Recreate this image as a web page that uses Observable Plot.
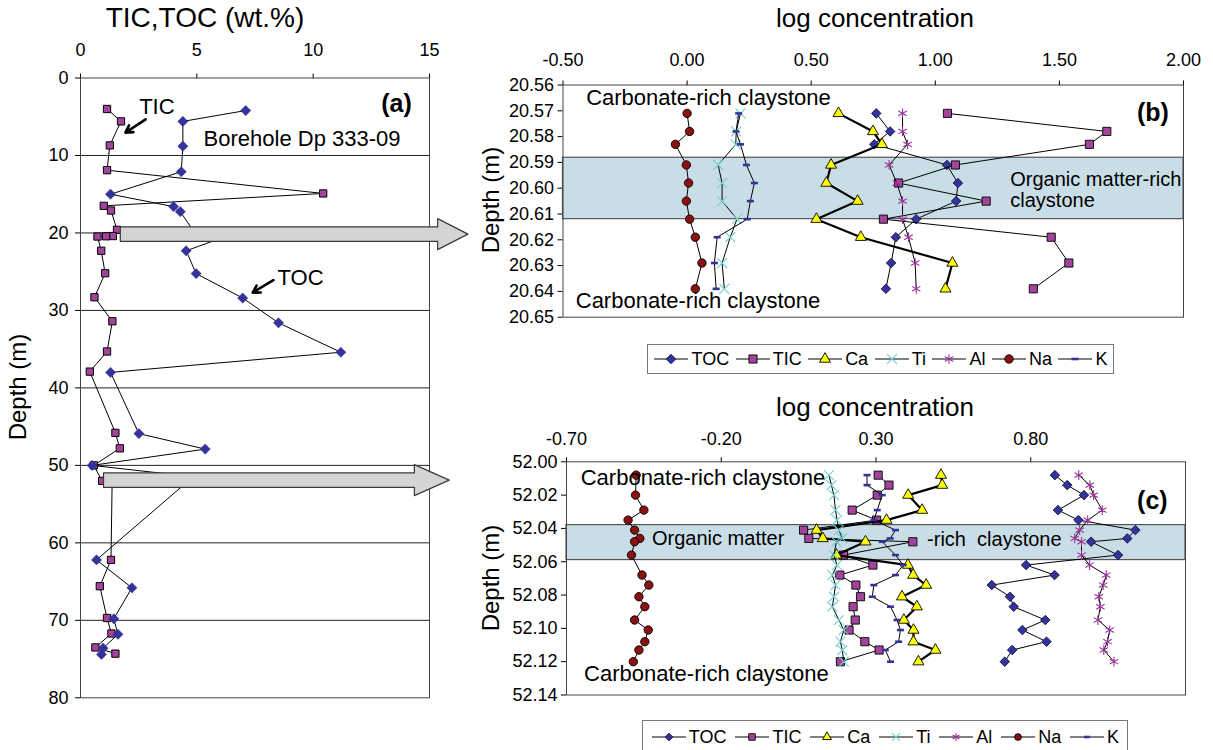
<!DOCTYPE html>
<html><head><meta charset="utf-8">
<script src="https://cdn.jsdelivr.net/npm/d3@7"></script>
<script src="https://cdn.jsdelivr.net/npm/@observablehq/plot@0.6"></script>
<style>
body{margin:0;background:#fff;}
#fig{position:relative;width:1213px;height:750px;overflow:hidden;font-family:"Liberation Sans",Arial,sans-serif;color:#000;background:#fff;}
.t{position:absolute;white-space:nowrap;transform:translate(-50%,-50%);}
.yl{position:absolute;white-space:nowrap;transform:translate(-50%,-50%) rotate(-90deg);}
.legend{position:absolute;border:1px solid #777;display:flex;align-items:center;justify-content:space-evenly;font-size:18px;background:#fff;box-sizing:border-box;}
.item{display:flex;align-items:center;gap:2px;}
</style></head><body><div id="fig"></div>
<script>
// ---------- Panel (a): TIC, TOC (wt.%) vs depth ----------
const aTicDepth = [4.0, 5.6, 8.7, 11.9, 14.9, 16.5, 17.1, 19.6, 20.4, 20.43, 20.46, 22.3, 25.2, 28.3, 31.4, 35.3, 37.9, 45.8, 47.8, 50.0, 52.0, 52.1, 62.2, 65.6, 69.7, 71.7, 73.5, 74.3];
const aTicValue = [1.14, 1.74, 1.26, 1.14, 10.43, 1.0, 1.31, 1.57, 1.39, 1.10, 0.73, 0.89, 1.06, 0.6, 1.37, 1.14, 0.4, 1.5, 1.69, 0.57, 0.93, 1.36, 1.31, 0.83, 1.14, 1.33, 0.64, 1.5];
const aTocDepth = [4.2, 5.6, 8.8, 12.1, 15.0, 16.6, 17.25, 20.4, 20.5, 22.3, 25.25, 28.4, 31.6, 35.4, 38.0, 45.9, 47.9, 50.0, 52.0, 52.1, 62.2, 65.8, 69.8, 71.8, 73.6, 74.4];
const aTocValue = [7.1, 4.4, 4.4, 4.33, 1.29, 4.0, 4.29, 5.0, 6.2, 4.54, 4.97, 6.97, 8.51, 11.19, 1.29, 2.51, 5.36, 0.5, 6.4, 4.6, 0.69, 2.21, 1.43, 1.61, 0.97, 0.9];
const aXTicks = [0, 5, 10, 15];
const aYTicks = [0, 10, 20, 30, 40, 50, 60, 70, 80];
const aGrid = [10, 20, 30, 40, 50, 60, 70];
// sampled intervals shown in (b) and (c): centre depth, x start, head start, tip
const aZoomDepth = [20.15, 51.9];
const aZoomStart = [1.71, 0.99];
const aZoomHead = [15.35, 14.35];
const aZoomTip = [16.65, 15.85];
const aLabels = [
  {x: 2.52, y: 3.7, text: "TIC"},
  {x: 8.47, y: 25.75, text: "TOC"},
  {x: 5.29, y: 7.85, text: "Borehole Dp 333-09"}
];
const aTag = {x: 14.24, y: 3.33, text: "(a)"};
const aPointers = [{x1: 2.8, y1: 5.34, x2: 1.93, y2: 7.05}, {x1: 8.29, y1: 26.1, x2: 7.4, y2: 27.7}];

// ---------- Panel (b): 20.56-20.65 m, log concentration ----------
const bDepth = [20.571, 20.578, 20.583, 20.591, 20.598, 20.605, 20.612, 20.619, 20.629, 20.639];
const bTOC = [0.762, 0.818, 0.754, 1.047, 1.091, 1.084, 0.923, 0.841, 0.822, 0.801];
const bTIC = [1.049, 1.691, 1.621, 1.081, 0.852, 1.205, 0.791, 1.467, 1.538, 1.395];
const bCa  = [0.610, 0.749, 0.785, 0.580, 0.561, 0.687, 0.521, 0.700, 1.069, 1.041];
const bTi  = [0.215, 0.198, 0.196, 0.125, 0.141, 0.141, 0.201, 0.174, 0.141, 0.150];
const bAl  = [0.868, 0.868, 0.888, 0.814, 0.845, 0.868, 0.868, 0.892, 0.919, 0.923];
const bNa  = [0.000, 0.010, -0.047, -0.003, 0.006, -0.003, 0.010, 0.033, 0.060, 0.033];
const bK   = [0.208, 0.197, 0.215, 0.239, 0.271, 0.255, 0.242, 0.121, 0.110, 0.117];
const bXTicks = [-0.5, 0, 0.5, 1, 1.5, 2];
const bYTicks = [20.56, 20.57, 20.58, 20.59, 20.60, 20.61, 20.62, 20.63, 20.64, 20.65];
const bBand = [20.5882, 20.6120];
const bLabelsMid = [
  {x: 0.086, y: 20.5651, text: "Carbonate-rich claystone"},
  {x: 0.044, y: 20.6438, text: "Carbonate-rich claystone"}
];
const bLabelsStart = [
  {x: 1.302, y: 20.5968, text: "Organic matter-rich"},
  {x: 1.302, y: 20.6049, text: "claystone"}
];
const bTag = {x: 1.877, y: 20.5709, text: "(b)"};

// ---------- Panel (c): 52.00-52.14 m, log concentration ----------
const cDepth = [52.008, 52.014, 52.020, 52.029, 52.035, 52.041, 52.046, 52.048, 52.056, 52.062, 52.068, 52.074, 52.081, 52.087, 52.095, 52.101, 52.108, 52.113, 52.120];
const cTOC = [0.878, 0.918, 0.972, 0.888, 0.954, 1.138, 1.112, 0.995, 1.082, 0.785, 0.877, 0.674, 0.733, 0.745, 0.847, 0.773, 0.851, 0.740, 0.716];
const cTIC = [0.307, 0.342, 0.304, 0.223, 0.302, 0.066, 0.083, 0.419, 0.195, 0.290, 0.183, 0.235, 0.250, 0.226, 0.233, 0.213, 0.264, 0.310, 0.185];
const cCa  = [0.510, 0.514, 0.404, 0.449, 0.334, 0.108, 0.128, 0.266, 0.172, 0.403, 0.420, 0.462, 0.384, 0.432, 0.390, 0.421, 0.421, 0.492, 0.437];
const cTi  = [0.148, 0.156, 0.164, 0.169, 0.174, 0.180, 0.191, 0.172, 0.164, 0.174, 0.159, 0.169, 0.164, 0.159, 0.180, 0.196, 0.185, 0.191, 0.196];
const cAl  = [0.955, 0.991, 1.003, 1.031, 0.984, 0.958, 0.942, 0.964, 0.964, 0.990, 1.044, 1.034, 1.020, 1.025, 1.017, 1.055, 1.048, 1.036, 1.069];
const cNa  = [-0.475, null, -0.477, -0.450, -0.501, -0.480, -0.463, -0.480, -0.490, null, -0.456, -0.434, -0.466, -0.447, -0.480, -0.436, -0.447, -0.466, -0.484];
const cK   = [0.271, 0.271, 0.320, 0.304, 0.293, 0.363, 0.346, 0.320, 0.363, 0.388, 0.363, 0.293, 0.288, 0.347, 0.368, 0.379, 0.373, 0.330, 0.347];
const cXTicks = [-0.7, -0.2, 0.3, 0.8];
const cYTicks = [52.00, 52.02, 52.04, 52.06, 52.08, 52.10, 52.12, 52.14];
const cBand = [52.038, 52.059];
const cLabelsMid = [
  {x: -0.259, y: 52.0094, text: "Carbonate-rich claystone"},
  {x: -0.248, y: 52.1273, text: "Carbonate-rich claystone"}
];
const cBandLabelsMid = [{x: -0.210, y: 52.0464, text: "Organic matter"}];
const cBandLabelsStart = [{x: 0.465, y: 52.0468, text: "-rich\u00a0 claystone"}];
const cTag = {x: 1.193, y: 52.0238, text: "(c)"};

const seriesNames = ["TOC", "TIC", "Ca", "Ti", "Al", "Na", "K"];

// ---------- styles ----------
const FONT = '"Liberation Sans", Arial, Helvetica, sans-serif';
const dashSymbol = {draw(ctx, size) { const w = Math.sqrt(size) * 0.62, h = 1.3; ctx.moveTo(-w, -h); ctx.lineTo(w, -h); ctx.lineTo(w, h); ctx.lineTo(-w, h); ctx.closePath(); }};
const STY = {
  TOC: {symbol: "diamond2", fill: "#333399", stroke: "#14144a", r: 4.3, lw: 1},
  TIC: {symbol: "square", fill: "#a3449c", stroke: "#000", r: 4.6, lw: 1},
  Ca:  {symbol: "triangle", fill: "#ffff00", stroke: "#000", r: 4.1, lw: 2.2},
  Ti:  {symbol: "times", fill: "none", stroke: "#6fcfcf", r: 4.6, lw: 1},
  Al:  {symbol: "asterisk", fill: "none", stroke: "#993399", r: 4.6, lw: 1},
  Na:  {symbol: "circle", fill: "#8b1010", stroke: "#000", r: 4.2, lw: 1},
  K:   {symbol: dashSymbol, fill: "#333399", stroke: "none", r: 3.2, lw: 1}
};

const fig = document.getElementById("fig");
function place(el, left, top, z) { el.style.position = "absolute"; el.style.left = left + "px"; el.style.top = top + "px"; el.style.zIndex = z; fig.appendChild(el); }
function html(cls, text, x, y, size) { const d = document.createElement("div"); d.className = cls; d.textContent = text; d.style.left = x + "px"; d.style.top = y + "px"; d.style.fontSize = size + "px"; fig.appendChild(d); return d; }
const rowsOf = (depths, vals) => depths.map((d, i) => ({d, v: vals[i]})).filter(r => r.v != null);
const fmt2 = d => d.toFixed(2);

function seriesMarks(depths, table) {
  const marks = [];
  for (const name of seriesNames) {
    const s = STY[name], rows = rowsOf(depths, table[name]);
    marks.push(Plot.line(rows, {x: "v", y: "d", stroke: "#000", strokeWidth: s.lw}));
    const dotOpts = {x: "v", y: "d", symbol: s.symbol, r: s.r};
    if (s.fill === "none") { dotOpts.stroke = s.stroke; dotOpts.strokeWidth = 1.1; dotOpts.fill = "none"; }
    else { dotOpts.fill = s.fill; dotOpts.stroke = s.stroke; dotOpts.strokeWidth = s.stroke === "none" ? 0 : 0.9; }
    marks.push(Plot.dot(rows, dotOpts));
  }
  return marks;
}

const baseStyle = {fontFamily: FONT, fontSize: "18px", background: "transparent", overflow: "visible", color: "#000"};

// ---------- (a) ----------
const arrowPolys = aZoomDepth.map((c, i) => {
  const r = 0.93, h = 2.0, x0 = aZoomStart[i], xh = aZoomHead[i], xt = aZoomTip[i];
  return [[x0, c - r], [xh, c - r], [xh, c - h], [xt, c], [xh, c + h], [xh, c + r], [x0, c + r], [x0, c - r]].map(([x, y]) => ({x, y, k: i}));
}).flat();

const plotA = Plot.plot({
  width: 450, height: 750, marginLeft: 80, marginRight: 21, marginTop: 77.5, marginBottom: 52.7,
  style: baseStyle,
  x: {domain: [0, 15], axis: "top", ticks: aXTicks, tickSize: 5, tickPadding: 17, label: null},
  y: {domain: [0, 80], reverse: true, ticks: aYTicks, tickSize: 5, tickPadding: 7, label: null},
  marks: [
    Plot.ruleY(aGrid, {stroke: "#222", strokeWidth: 1}),
    Plot.frame({stroke: "#444"}),
    Plot.line(rowsOf(aTicDepth, aTicValue), {x: "v", y: "d", stroke: "#000", strokeWidth: 1}),
    Plot.dot(rowsOf(aTicDepth, aTicValue), {x: "v", y: "d", symbol: "square", r: 4.1, fill: "#a3449c", stroke: "#000", strokeWidth: 1}),
    Plot.line(rowsOf(aTocDepth, aTocValue), {x: "v", y: "d", stroke: "#000", strokeWidth: 1}),
    Plot.dot(rowsOf(aTocDepth, aTocValue), {x: "v", y: "d", symbol: "diamond2", r: 4.6, fill: "#333399", stroke: "#333399", strokeWidth: 0.5}),
    Plot.line(arrowPolys, {x: "x", y: "y", z: "k", fill: "#d4d4d4", stroke: "#3a3a3a", strokeWidth: 1.2}),
    Plot.text(aLabels, {x: "x", y: "y", text: "text", textAnchor: "start", fontSize: 22}),
    Plot.text([aTag], {x: "x", y: "y", text: "text", textAnchor: "end", fontSize: 25, fontWeight: "bold"}),
    Plot.arrow(aPointers, {x1: "x1", y1: "y1", x2: "x2", y2: "y2", stroke: "#000", strokeWidth: 2.6, headLength: 11})
  ]
});
place(plotA, 0, 0, 3);

// ---------- (b) ----------
const plotB = Plot.plot({
  width: 743, height: 340, marginLeft: 92.5, marginRight: 30, marginTop: 84.5, marginBottom: 23.3,
  style: baseStyle,
  x: {domain: [-0.5, 2.0], axis: "top", ticks: bXTicks, tickFormat: fmt2, tickSize: 5, tickPadding: 14, label: null},
  y: {domain: [20.56, 20.65], reverse: true, ticks: bYTicks, tickFormat: fmt2, tickSize: 5, tickPadding: 4, label: null},
  marks: [
    Plot.rect([{y1: bBand[0], y2: bBand[1]}], {x1: -0.5, x2: 2.0, y1: "y1", y2: "y2", fill: "#c9dde6", stroke: "#555", strokeWidth: 1.2}),
    Plot.frame({stroke: "#444"}),
    ...seriesMarks(bDepth, {TOC: bTOC, TIC: bTIC, Ca: bCa, Ti: bTi, Al: bAl, Na: bNa, K: bK}),
    Plot.text(bLabelsMid, {x: "x", y: "y", text: "text", textAnchor: "middle", fontSize: 22}),
    Plot.text(bLabelsStart, {x: "x", y: "y", text: "text", textAnchor: "start", fontSize: 20}),
    Plot.text([bTag], {x: "x", y: "y", text: "text", fontSize: 25, fontWeight: "bold"})
  ]
});
place(plotB, 470, 0, 1);

// ---------- (c) ----------
const plotC = Plot.plot({
  width: 743, height: 320, marginLeft: 96, marginRight: 28, marginTop: 81.3, marginBottom: 5.5,
  style: baseStyle,
  x: {domain: [-0.7, 1.3], axis: "top", ticks: cXTicks, tickFormat: fmt2, tickSize: 5, tickPadding: 12, label: null},
  y: {domain: [52.00, 52.14], reverse: true, ticks: cYTicks, tickFormat: fmt2, tickSize: 5, tickPadding: 4, label: null},
  marks: [
    Plot.rect([{y1: cBand[0], y2: cBand[1]}], {x1: -0.7, x2: 1.3, y1: "y1", y2: "y2", fill: "#c9dde6", stroke: "#555", strokeWidth: 1.2}),
    Plot.frame({stroke: "#444"}),
    ...seriesMarks(cDepth, {TOC: cTOC, TIC: cTIC, Ca: cCa, Ti: cTi, Al: cAl, Na: cNa, K: cK}),
    Plot.text(cLabelsMid, {x: "x", y: "y", text: "text", textAnchor: "middle", fontSize: 22}),
    Plot.text(cBandLabelsMid, {x: "x", y: "y", text: "text", textAnchor: "middle", fontSize: 20}),
    Plot.text(cBandLabelsStart, {x: "x", y: "y", text: "text", textAnchor: "start", fontSize: 20}),
    Plot.text([cTag], {x: "x", y: "y", text: "text", fontSize: 25, fontWeight: "bold"})
  ]
});
place(plotC, 470, 380, 1);

// ---------- titles & axis labels ----------
html("t", "TIC,TOC (wt.%)", 205, 18, 28);
html("t", "log concentration", 875, 18, 26);
html("t", "log concentration", 875, 407, 26);
html("yl", "Depth (m)", 18, 387, 24);
html("yl", "Depth (m)", 491, 200, 24);
html("yl", "Depth (m)", 491, 578, 24);

// ---------- legends ----------
function legend(left, top, width, height, scale) {
  const box = document.createElement("div");
  box.className = "legend";
  Object.assign(box.style, {left: left + "px", top: top + "px", width: width + "px", height: height + "px", zIndex: 4});
  for (const name of seriesNames) {
    const s = STY[name];
    const item = document.createElement("div"); item.className = "item";
    const svg = d3.create("svg").attr("width", 36).attr("height", 20);
    svg.append("line").attr("x1", 1).attr("x2", 35).attr("y1", 10).attr("y2", 10).attr("stroke", "#000").attr("stroke-width", 1);
    const r = s.r * scale;
    const sym = typeof s.symbol === "string" ? {diamond2: d3.symbolDiamond2, square: d3.symbolSquare, triangle: d3.symbolTriangle, times: d3.symbolTimes, asterisk: d3.symbolAsterisk, circle: d3.symbolCircle}[s.symbol] : s.symbol;
    const p = svg.append("path").attr("transform", "translate(18,10)").attr("d", d3.symbol(sym, Math.PI * r * r)());
    if (s.fill === "none") p.attr("fill", "none").attr("stroke", s.stroke).attr("stroke-width", 1.1);
    else p.attr("fill", s.fill).attr("stroke", s.stroke).attr("stroke-width", s.stroke === "none" ? 0 : 0.9);
    item.appendChild(svg.node());
    const lab = document.createElement("span"); lab.textContent = name;
    item.appendChild(lab);
    box.appendChild(item);
  }
  fig.appendChild(box);
}
legend(647, 344, 467, 30, 1);
legend(642, 720, 486, 34, 0.8);
</script></body></html>
